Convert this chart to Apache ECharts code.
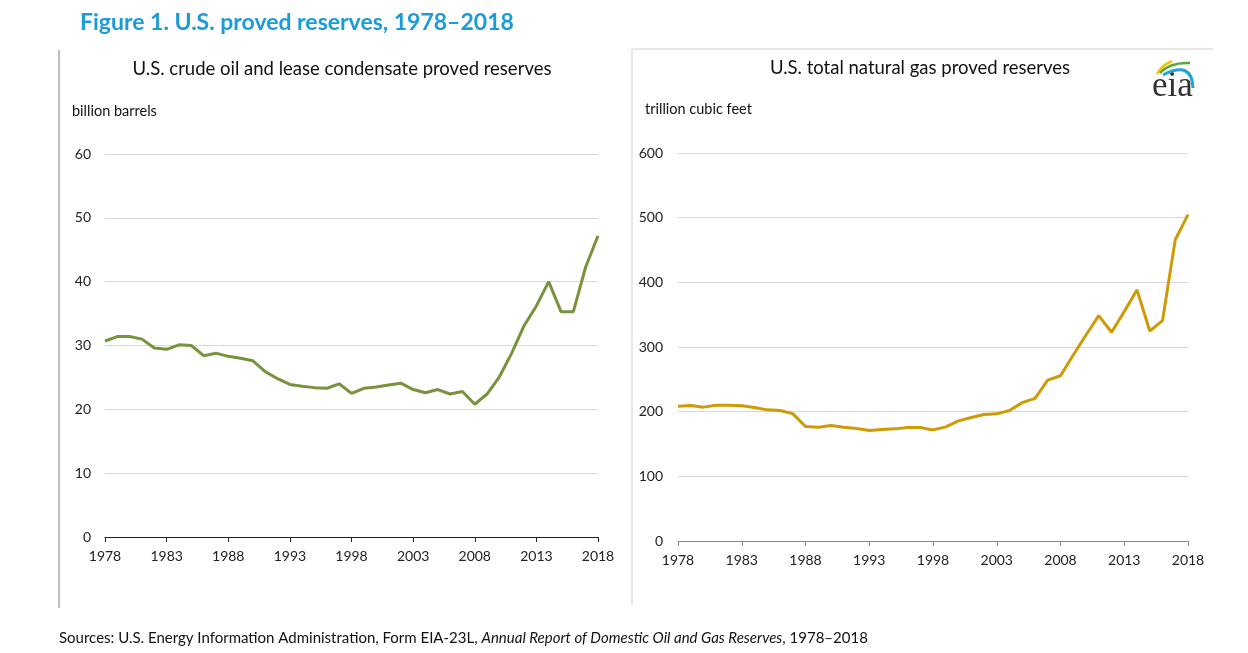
<!DOCTYPE html>
<html>
<head>
<meta charset="utf-8">
<title>U.S. proved reserves, 1978–2018</title>
<script src="https://cdn.jsdelivr.net/npm/echarts@6/dist/echarts.min.js"></script>
<style>
  html, body { margin: 0; padding: 0; background: #fff; }
  #chart { width: 1248px; height: 653px; }
</style>
</head>
<body>
<div id="chart"></div>
<script>
// years on the x axis
const years = [];
for (let y = 1978; y <= 2018; y++) years.push(String(y));

// crude oil and lease condensate, billion barrels
const oilReserves = [30.7, 31.4, 31.4, 31.0, 29.6, 29.4, 30.1, 30.0, 28.4, 28.8,
  28.3, 28.0, 27.6, 25.9, 24.8, 23.9, 23.6, 23.4, 23.3, 24.0,
  22.5, 23.3, 23.5, 23.8, 24.1, 23.1, 22.6, 23.1, 22.4, 22.8,
  20.8, 22.4, 25.1, 28.8, 33.1, 36.2, 40.0, 35.3, 35.3, 42.3, 47.2];

// total natural gas, trillion cubic feet
const gasReserves = [208.5, 209.6, 207, 210, 210, 209, 206.5, 202.8, 201.8, 197,
  177, 176, 178.6, 176, 174, 170.8, 172.4, 173.4, 175.5, 175.5,
  171.8, 176.5, 185.8, 191, 195.6, 196.6, 201.8, 214, 220.5, 248.8,
  255.5, 287.6, 318.6, 348.5, 322.8, 354.7, 388.4, 324.8, 340.8, 465.9, 504.7];

const FONT = 'Lato, "Open Sans", sans-serif';

// shared axis styling, only the bits that differ get passed in
const xAxisFor = (gridIndex, lineColor) => ({
  type: 'category',
  gridIndex,
  data: years,
  boundaryGap: false,
  axisLine: { lineStyle: { color: lineColor, width: 1 } },
  axisTick: { interval: 4, length: 5, lineStyle: { color: lineColor } },
  axisLabel: { interval: 4, color: '#222', fontSize: 14, fontFamily: FONT, margin: 12 },
  splitLine: { show: false }
});

const yAxisFor = (gridIndex, max, interval, margin) => ({
  type: 'value',
  gridIndex,
  min: 0,
  max,
  interval,
  axisLine: { show: false },
  axisTick: { show: false },
  axisLabel: { color: '#222', fontSize: 14, fontFamily: FONT, margin },
  splitLine: { lineStyle: { color: '#d9d9d9', width: 1 } }
});

const options = {
  backgroundColor: '#fff',
  animation: false,
  grid: [
    { left: 105, right: 650, top: 154, bottom: 116 },
    { left: 678, right: 60, top: 153, bottom: 112 }
  ],
  xAxis: [xAxisFor(0, '#222'), xAxisFor(1, '#888')],
  yAxis: [yAxisFor(0, 60, 10, 14), yAxisFor(1, 600, 100, 15)],
  series: [
    {
      name: 'crude oil',
      type: 'line',
      xAxisIndex: 0,
      yAxisIndex: 0,
      data: oilReserves,
      showSymbol: false,
      lineStyle: { color: '#77933c', width: 3 },
      itemStyle: { color: '#77933c' }
    },
    {
      name: 'natural gas',
      type: 'line',
      xAxisIndex: 1,
      yAxisIndex: 1,
      data: gasReserves,
      showSymbol: false,
      lineStyle: { color: '#cf9a06', width: 3 },
      itemStyle: { color: '#cf9a06' }
    }
  ],
  graphic: [
    // figure title
    {
      type: 'text', left: 80, top: 11,
      style: { text: 'Figure 1. U.S. proved reserves, 1978–2018', fill: '#1b9bd7',
        font: 'bold 23px ' + FONT }
    },
    // panel borders
    { type: 'line', shape: { x1: 59, y1: 50, x2: 59, y2: 608 },
      style: { stroke: '#bfbfbf', lineWidth: 2 } },
    { type: 'line', shape: { x1: 632, y1: 49, x2: 632, y2: 605 },
      style: { stroke: '#d0d0d0', lineWidth: 1 } },
    { type: 'line', shape: { x1: 632, y1: 49, x2: 1213, y2: 49 },
      style: { stroke: '#d0d0d0', lineWidth: 1 } },
    // panel titles
    {
      type: 'text', x: 342, y: 69,
      style: { text: 'U.S. crude oil and lease condensate proved reserves', fill: '#111',
        font: '18.5px ' + FONT, align: 'center', verticalAlign: 'middle' }
    },
    {
      type: 'text', x: 920, y: 68,
      style: { text: 'U.S. total natural gas proved reserves', fill: '#111',
        font: '18.5px ' + FONT, align: 'center', verticalAlign: 'middle' }
    },
    // unit labels
    {
      type: 'text', x: 72, y: 111,
      style: { text: 'billion barrels', fill: '#111', font: '14.5px ' + FONT, verticalAlign: 'middle' }
    },
    {
      type: 'text', x: 645, y: 109,
      style: { text: 'trillion cubic feet', fill: '#111', font: '14.5px ' + FONT, verticalAlign: 'middle' }
    },
    // eia logo (rough)
    {
      type: 'text', x: 1152, y: 104,
      style: { text: 'eia', fill: '#333', font: '35px "Liberation Serif", "DejaVu Serif", serif',
        verticalAlign: 'bottom' }
    },
    { type: 'bezierCurve', shape: { x1: 1157, y1: 74, cpx1: 1161, cpy1: 66, x2: 1172, y2: 61 },
      style: { stroke: '#f2c500', lineWidth: 2.5, fill: null } },
    { type: 'bezierCurve', shape: { x1: 1160, y1: 73, cpx1: 1170, cpy1: 62, x2: 1190, y2: 63 },
      style: { stroke: '#5aa63c', lineWidth: 2.5, fill: null } },
    { type: 'bezierCurve', shape: { x1: 1163, y1: 75, cpx1: 1192, cpy1: 60, x2: 1193, y2: 88 },
      style: { stroke: '#1da2dc', lineWidth: 3, fill: null } },
    // source note
    {
      type: 'text', x: 59, y: 638,
      style: {
        text: '{n|Sources: U.S. Energy Information Administration, Form EIA-23L, }{i|Annual Report of Domestic Oil and Gas Reserves}{n|, 1978–2018}',
        verticalAlign: 'middle',
        rich: {
          n: { fill: '#111', font: '15px ' + FONT },
          i: { fill: '#111', font: 'italic 15px ' + FONT }
        }
      }
    }
  ]
};

const chart = echarts.init(document.getElementById('chart'));
chart.setOption(options, true);
</script>
</body>
</html>
